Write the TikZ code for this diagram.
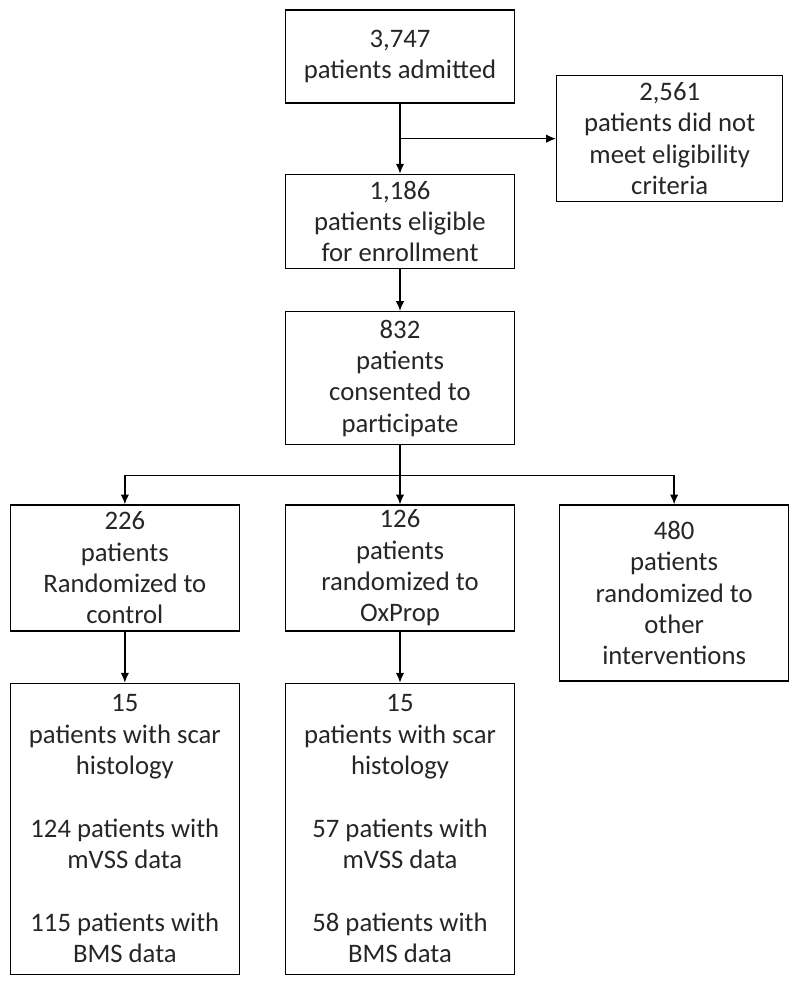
\documentclass[tikz,border=0pt]{standalone}
\usepackage{fontspec}
\setmainfont{Carlito}
\usetikzlibrary{
arrows,
arrows.meta,
calc,
positioning
}
\tikzset{>={Latex[length=7pt,width=6pt]}}

\begin{document}
\begin{tikzpicture}[node distance=1.0cm, font=\fontsize{19}{22.3}\selectfont, line width=0.95pt,
		box/.style={draw,align=center,minimum width=5.72cm,inner sep=2pt,text=black!85}]
		\useasboundingbox (0,0) rectangle (20,-24.525);

		% screening
		\node[box,minimum height=2.325cm] (admit) at (10,-1.4125) {3,747\\patients admitted};
		\node[box,minimum height=2.35cm,below=1.75cm of admit] (elig) {1,186\\patients eligible\\for enrollment};
		\coordinate (split) at ($(admit.south)!0.5!(elig.north)$) {};
		\node[box,minimum width=5.65cm,minimum height=3.15cm,right=3.9cm of split] (excl) {2,561\\patients did not\\meet eligibility\\criteria};
		\node[box,minimum height=3.325cm,below=1.05cm of elig] (consent) {832\\patients\\consented to\\participate};
		\coordinate[below=0.75cm of consent.south] (fork);

		% randomization
		\node[box,minimum height=3.15cm,below=1.475cm of consent] (oxprop) {126\\patients\\randomized to\\OxProp};
		\node[box,minimum height=3.15cm,left=1.125cm of oxprop] (ctrl) {226\\patients\\Randomized to\\control};
		\node[box,minimum height=4.4cm,right=1.1cm of oxprop.north east,anchor=north west] (other) {480\\patients\\randomized to\\other\\interventions};

		% outcomes
		\node[box,minimum height=7.275cm,below=1.275cm of ctrl] (ctrlout) {15\\patients with scar\\histology\\[22.3pt]124 patients with\\mVSS data\\[22.3pt]115 patients with\\BMS data};
		\node[box,minimum height=7.275cm,below=1.275cm of oxprop] (oxout) {15\\patients with scar\\histology\\[22.3pt]57 patients with\\mVSS data\\[22.3pt]58 patients with\\BMS data};

		% arrows
		\draw[->] (admit) -- (elig);
		\draw[->] (split) -- (excl);
		\draw[->] (elig) -- (consent);
		\draw[->] (consent) -- (oxprop);
		\draw[->] (fork) -| (ctrl);
		\draw[->] (fork) -| (other);
		\draw[->] (ctrl) -- (ctrlout);
		\draw[->] (oxprop) -- (oxout);
		\end{tikzpicture}
\end{document}
